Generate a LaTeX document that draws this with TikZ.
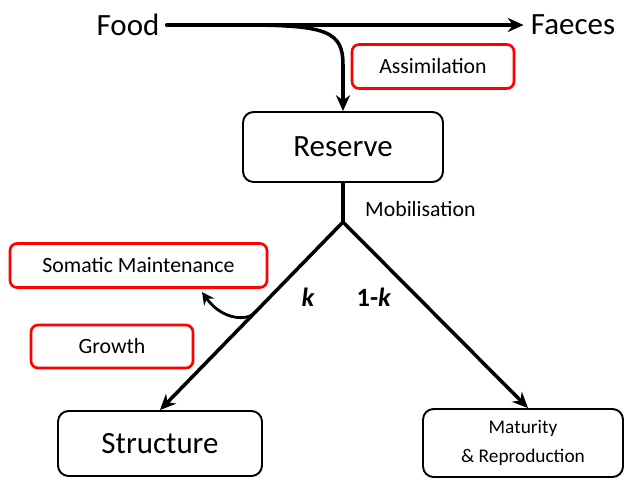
\documentclass[tikz,border=0pt]{standalone}
\usepackage{fontspec}
\setmainfont{Carlito}
\usetikzlibrary{arrows.meta,calc}
\tikzset{
	pool/.style={draw=black, line width=1.1pt, rounded corners=6pt, align=center,
			minimum width=#1, inner sep=0pt},
	flux/.style={draw=red, line width=1.5pt, rounded corners=4pt, align=center,
			minimum width=#1, minimum height=0.88cm, inner sep=0pt,
			font=\fontsize{12.4}{14}\selectfont}
}
\begin{document}
\begin{tikzpicture}[x=0.02cm, y=-0.02cm, line cap=round, line join=round]
    \clip (0,0) rectangle (625,477);

    \node[font=\fontsize{17.6}{20}\selectfont, inner sep=4pt] (food) at (128,25) {Food};
    \node[font=\fontsize{17.6}{20}\selectfont, inner sep=4pt] (faeces) at (573,25) {Faeces};

    \node[pool=4cm, minimum height=1.4cm, font=\fontsize{17.6}{20}\selectfont] (reserve) at (343,147) {Reserve};
    \node[pool=4.08cm, minimum height=1.3cm, font=\fontsize{17.6}{20}\selectfont] (structure) at (160,443.5) {Structure};
    \node[pool=4cm, minimum height=1.36cm, font=\fontsize{11}{16.5}\selectfont] (maturity) at (523,443) {Maturity\\\& Reproduction};

    \node[flux=3.24cm] (assim) at (433,66.5) {Assimilation};
    \node[flux=5.14cm] (somatic) at (138.5,265.5) {Somatic Maintenance};
    \node[flux=3.24cm, minimum height=0.86cm] (growth) at (112,346.5) {Growth};

    \coordinate (split) at (245,25);
    \coordinate (apex) at (343,222);
    \node[anchor=west, font=\fontsize{12.4}{14}\selectfont] (mobil) at (359,209) {Mobilisation};
    \node[font=\fontsize{15}{17}\selectfont\bfseries\itshape] (kk) at (308,297) {k};
    \node[font=\fontsize{15}{17}\selectfont\bfseries] (onek) at (374,297) {1-\textit{k}};

    \tikzset{arr/.style={-{Stealth[length=9pt,width=8pt]}, line width=2pt}}

    \draw[arr] (food) -- (faeces);
    \draw[arr] (split) .. controls (328,25) and (343,32) .. (343,65) -- (reserve.north);

    \draw[line width=2pt] (reserve.south) -- (apex);
    \draw[arr] (apex) -- (structure.north);
    \draw[arr] (apex) -- ([xshift=0.1cm]maturity.north);

    \path (apex) -- (structure.north) coordinate[pos=0.476] (sm);
    \draw[-{Stealth[length=7pt,width=7pt]}, line width=1.6pt] (sm) .. controls (248,322) and (222,320) .. (202,292);
  \end{tikzpicture}
\end{document}
